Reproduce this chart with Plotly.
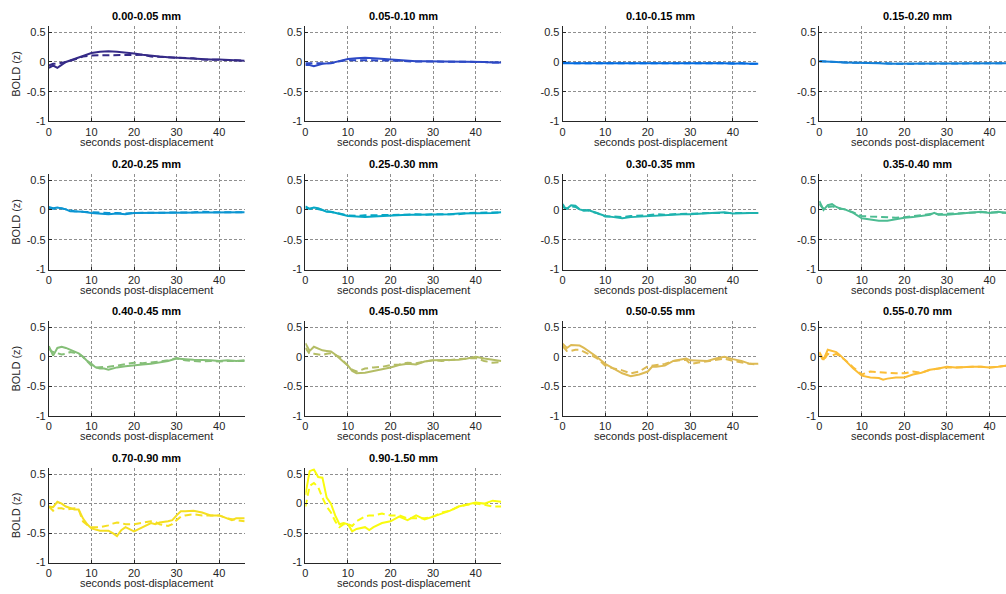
import plotly.graph_objects as go

# ---------------- data ----------------
TITLES = ["0.00-0.05 mm", "0.05-0.10 mm", "0.10-0.15 mm", "0.15-0.20 mm",
          "0.20-0.25 mm", "0.25-0.30 mm", "0.30-0.35 mm", "0.35-0.40 mm",
          "0.40-0.45 mm", "0.45-0.50 mm", "0.50-0.55 mm", "0.55-0.70 mm",
          "0.70-0.90 mm", "0.90-1.50 mm"]

COLORS = ["#352a87", "#2d49c5", "#036be0", "#137fd7", "#0b95d2", "#06a7c5",
          "#1eb3ae", "#4cbc92", "#85bf78", "#b4bd65", "#ddba54", "#fbbd36",
          "#f5df21", "#f9fb0e"]

X_TICKS = [0, 10, 20, 30, 40]
Y_TICKS = [0.5, 0, -0.5, -1]
Y_TICK_LABELS = ["0.5", "0", "-0.5", "-1"]

T_A = [0, 1, 2, 3, 4, 6, 8, 10, 12, 14, 16, 18, 20, 22, 24, 26, 28, 30, 32, 34, 36, 38, 40, 42, 44, 46]
T_B = [0, 1, 2, 3, 4, 5, 6, 8, 10, 12, 14, 16, 18, 20, 22, 24, 26, 28, 30, 32, 34, 36, 38, 40, 42, 44, 46]

T01 = T_A
S01 = [-0.10, -0.06, -0.10, -0.05, 0.00, 0.05, 0.10, 0.15, 0.17, 0.18, 0.17, 0.16, 0.14, 0.12, 0.10, 0.09, 0.08, 0.07, 0.07, 0.06, 0.04, 0.04, 0.04, 0.03, 0.03, 0.02]
D01 = [-0.06, -0.03, -0.03, -0.02, 0.00, 0.04, 0.09, 0.11, 0.11, 0.11, 0.11, 0.11, 0.11, 0.12, 0.09, 0.09, 0.08, 0.07, 0.07, 0.06, 0.04, 0.04, 0.04, 0.03, 0.03, 0.02]

T02 = T_A
S02 = [-0.05, -0.05, -0.07, -0.05, -0.03, -0.02, 0.02, 0.05, 0.06, 0.07, 0.06, 0.05, 0.03, 0.02, 0.01, 0.01, 0.01, 0.01, 0.01, 0.00, 0.00, 0.00, 0.00, 0.00, -0.01, -0.01]
D02 = [-0.02, -0.02, -0.02, -0.03, -0.03, -0.02, 0.01, 0.03, 0.03, 0.03, 0.03, 0.03, 0.02, 0.02, 0.01, 0.01, 0.01, 0.01, 0.01, 0.00, 0.00, 0.00, 0.00, 0.00, -0.01, -0.01]

T03 = T_A
S03 = [-0.02, -0.02, -0.02, -0.02, -0.02, -0.02, -0.02, -0.02, -0.01, -0.02, -0.02, -0.02, -0.02, -0.02, -0.02, -0.02, -0.02, -0.02, -0.02, -0.02, -0.02, -0.02, -0.03, -0.02, -0.03, -0.03]
D03 = [-0.01, -0.02, -0.02, -0.02, -0.02, -0.02, -0.02, -0.01, -0.01, -0.01, -0.02, -0.02, -0.02, -0.02, -0.02, -0.02, -0.02, -0.02, -0.02, -0.02, -0.02, -0.02, -0.02, -0.02, -0.03, -0.03]

T04 = T_A
S04 = [0.01, 0.01, 0.01, 0.00, 0.00, -0.01, -0.01, -0.02, -0.02, -0.02, -0.03, -0.03, -0.03, -0.03, -0.03, -0.03, -0.02, -0.02, -0.02, -0.02, -0.02, -0.02, -0.02, -0.02, -0.02, -0.02]
D04 = [0.01, 0.01, 0.00, 0.00, 0.00, -0.01, -0.01, -0.01, -0.02, -0.02, -0.02, -0.03, -0.03, -0.02, -0.03, -0.02, -0.02, -0.02, -0.02, -0.02, -0.02, -0.02, -0.02, -0.02, -0.02, -0.02]

T05 = T_B
S05 = [0.05, 0.03, 0.04, 0.03, 0.01, -0.02, -0.02, -0.03, -0.05, -0.06, -0.07, -0.06, -0.07, -0.05, -0.05, -0.05, -0.04, -0.04, -0.04, -0.04, -0.04, -0.04, -0.04, -0.04, -0.04, -0.04, -0.04]
D05 = [0.03, 0.02, 0.03, 0.03, 0.01, -0.01, -0.02, -0.03, -0.04, -0.05, -0.05, -0.05, -0.06, -0.05, -0.05, -0.04, -0.04, -0.04, -0.04, -0.04, -0.04, -0.03, -0.04, -0.04, -0.04, -0.04, -0.04]

T06 = T_B
S06 = [0.06, 0.02, 0.04, 0.03, 0.00, -0.03, -0.03, -0.07, -0.10, -0.11, -0.12, -0.11, -0.10, -0.10, -0.09, -0.08, -0.08, -0.08, -0.07, -0.07, -0.07, -0.06, -0.06, -0.05, -0.05, -0.05, -0.04]
D06 = [0.03, 0.02, 0.03, 0.02, 0.00, -0.02, -0.03, -0.06, -0.09, -0.10, -0.09, -0.09, -0.09, -0.09, -0.08, -0.08, -0.07, -0.08, -0.07, -0.07, -0.06, -0.07, -0.05, -0.05, -0.05, -0.05, -0.04]

T07 = [0, 0.5, 1, 2, 3, 4, 5, 6, 8, 10, 12, 14, 16, 18, 20, 22, 24, 26, 28, 30, 32, 34, 36, 38, 40, 42, 44, 46]
S07 = [0.10, 0.04, 0.02, 0.08, 0.07, 0.01, -0.01, 0.00, -0.05, -0.10, -0.12, -0.14, -0.12, -0.11, -0.10, -0.09, -0.08, -0.08, -0.07, -0.07, -0.06, -0.06, -0.05, -0.04, -0.06, -0.05, -0.05, -0.05]
D07 = [0.06, 0.03, 0.02, 0.06, 0.05, 0.01, -0.01, -0.01, -0.05, -0.11, -0.11, -0.12, -0.10, -0.10, -0.09, -0.07, -0.08, -0.07, -0.07, -0.06, -0.06, -0.05, -0.05, -0.05, -0.05, -0.05, -0.04, -0.05]

T08 = [0, 1, 2, 3, 4, 5, 6, 8, 10, 12, 14, 16, 18, 20, 22, 24, 26, 27, 28, 30, 32, 34, 36, 38, 40, 42, 44, 46]
S08 = [0.15, 0.00, 0.08, 0.10, 0.05, 0.02, 0.01, -0.05, -0.14, -0.16, -0.18, -0.18, -0.15, -0.13, -0.12, -0.10, -0.08, -0.05, -0.08, -0.08, -0.07, -0.05, -0.04, -0.03, -0.05, -0.03, -0.05, -0.06]
D08 = [0.10, 0.02, 0.05, 0.06, 0.04, 0.03, 0.01, -0.04, -0.10, -0.11, -0.12, -0.13, -0.13, -0.12, -0.10, -0.09, -0.07, -0.06, -0.07, -0.07, -0.06, -0.05, -0.04, -0.04, -0.04, -0.04, -0.05, -0.05]

T09 = [0, 0.5, 1, 2, 3, 4, 5, 6, 7, 8, 9, 10, 11, 12, 13, 14, 16, 18, 20, 22, 24, 26, 28, 30, 31, 32, 34, 36, 38, 40, 42, 44, 46]
S09 = [0.18, 0.10, 0.02, 0.15, 0.17, 0.15, 0.12, 0.10, 0.06, 0.00, -0.07, -0.12, -0.18, -0.20, -0.20, -0.22, -0.18, -0.16, -0.14, -0.13, -0.12, -0.10, -0.07, -0.03, -0.03, -0.04, -0.05, -0.05, -0.06, -0.07, -0.06, -0.07, -0.06]
D09 = [0.15, 0.10, 0.08, 0.06, 0.04, 0.05, 0.08, 0.07, 0.05, 0.00, -0.08, -0.15, -0.18, -0.18, -0.17, -0.17, -0.15, -0.13, -0.10, -0.11, -0.10, -0.08, -0.06, -0.02, -0.04, -0.06, -0.07, -0.08, -0.07, -0.08, -0.07, -0.07, -0.07]

T10 = [0, 1, 2, 3, 4, 5, 6, 7, 8, 10, 11, 12, 14, 16, 18, 20, 22, 24, 26, 28, 30, 32, 34, 36, 38, 40, 42, 44, 46]
S10 = [0.23, 0.10, 0.17, 0.14, 0.11, 0.10, 0.09, 0.04, -0.02, -0.15, -0.24, -0.28, -0.27, -0.24, -0.22, -0.18, -0.14, -0.12, -0.13, -0.08, -0.06, -0.06, -0.06, -0.05, -0.03, 0.00, -0.03, -0.05, -0.07]
D10 = [0.15, 0.05, 0.05, 0.04, 0.03, 0.05, 0.06, 0.03, 0.00, -0.15, -0.22, -0.25, -0.20, -0.18, -0.17, -0.14, -0.13, -0.10, -0.11, -0.08, -0.06, -0.07, -0.05, -0.04, -0.03, -0.02, -0.07, -0.10, -0.09]

T11 = [0, 1, 2, 3, 4, 5, 6, 8, 10, 12, 14, 16, 18, 20, 21, 22, 24, 26, 28, 29, 30, 32, 34, 36, 38, 40, 42, 44, 46]
S11 = [0.22, 0.15, 0.20, 0.20, 0.19, 0.15, 0.10, 0.00, -0.12, -0.20, -0.28, -0.33, -0.30, -0.25, -0.17, -0.17, -0.15, -0.07, -0.05, -0.03, -0.06, -0.07, -0.07, -0.03, 0.00, -0.04, -0.07, -0.12, -0.12]
D11 = [0.18, 0.10, 0.10, 0.12, 0.12, 0.09, 0.05, -0.02, -0.15, -0.20, -0.23, -0.28, -0.25, -0.16, -0.15, -0.15, -0.12, -0.07, -0.05, -0.05, -0.12, -0.10, -0.08, -0.05, -0.03, -0.07, -0.10, -0.12, -0.13]

T12 = [0, 1, 2, 3, 4, 5, 6, 8, 10, 12, 14, 15, 16, 18, 20, 22, 24, 26, 28, 30, 32, 34, 36, 38, 40, 42, 44, 46]
S12 = [0.08, -0.05, 0.12, 0.10, 0.08, 0.02, -0.05, -0.20, -0.32, -0.35, -0.36, -0.39, -0.37, -0.35, -0.35, -0.30, -0.27, -0.22, -0.20, -0.17, -0.18, -0.17, -0.17, -0.17, -0.18, -0.17, -0.15, -0.15]
D12 = [0.05, -0.07, 0.05, 0.02, 0.05, 0.00, -0.05, -0.18, -0.30, -0.25, -0.26, -0.27, -0.28, -0.28, -0.28, -0.25, -0.27, -0.22, -0.20, -0.18, -0.18, -0.17, -0.17, -0.17, -0.18, -0.17, -0.15, -0.15]

T13 = [0, 1, 2, 3, 4, 5, 6, 7, 8, 9, 10, 12, 14, 15, 16, 17, 18, 20, 22, 24, 25, 26, 28, 29, 30, 31, 32, 34, 36, 38, 40, 42, 43, 44, 46]
S13 = [-0.05, -0.06, 0.03, 0.00, -0.05, -0.08, -0.10, -0.10, -0.25, -0.35, -0.42, -0.46, -0.46, -0.50, -0.55, -0.45, -0.40, -0.47, -0.40, -0.33, -0.35, -0.32, -0.30, -0.28, -0.20, -0.13, -0.13, -0.12, -0.15, -0.20, -0.20, -0.25, -0.28, -0.25, -0.25]
D13 = [-0.05, -0.12, -0.08, -0.08, -0.10, -0.09, -0.08, -0.10, -0.30, -0.36, -0.40, -0.40, -0.37, -0.34, -0.32, -0.33, -0.35, -0.35, -0.33, -0.30, -0.31, -0.35, -0.38, -0.35, -0.28, -0.22, -0.20, -0.18, -0.20, -0.20, -0.20, -0.25, -0.27, -0.28, -0.30]

T14 = [0, 1, 2, 3, 4, 5, 6, 7, 8, 9, 10, 11, 12, 14, 15, 16, 18, 20, 22, 24, 26, 28, 30, 32, 34, 36, 38, 40, 42, 44, 46]
S14 = [0.15, 0.55, 0.58, 0.45, 0.44, 0.10, 0.00, -0.20, -0.35, -0.33, -0.35, -0.47, -0.43, -0.40, -0.45, -0.40, -0.33, -0.30, -0.22, -0.28, -0.20, -0.27, -0.22, -0.17, -0.12, -0.05, -0.02, 0.02, 0.00, 0.05, 0.03]
D14 = [-0.05, 0.30, 0.35, 0.28, 0.10, -0.05, -0.15, -0.30, -0.40, -0.35, -0.35, -0.38, -0.30, -0.22, -0.20, -0.20, -0.17, -0.20, -0.20, -0.25, -0.25, -0.25, -0.22, -0.15, -0.12, -0.05, -0.02, 0.00, -0.02, -0.05, -0.05]

TS = [T01, T02, T03, T04, T05, T06, T07, T08, T09, T10, T11, T12, T13, T14]
SOLID = [S01, S02, S03, S04, S05, S06, S07, S08, S09, S10, S11, S12, S13, S14]
DASHED = [D01, D02, D03, D04, D05, D06, D07, D08, D09, D10, D11, D12, D13, D14]

for i in range(14):
    assert len(TS[i]) == len(SOLID[i]) == len(DASHED[i]), (i, len(TS[i]), len(SOLID[i]), len(DASHED[i]))

# ---------------- layout geometry (pixels) ----------------
W, H = 1006, 594
COL_X0 = [46, 303.3, 561.3, 818.7]
PX_PER_S = 4.27
X_MAX = 46
ROW_TOP = [26.5, 176, 324.7, 473]
ROW_BOT = [122.7, 272.3, 420, 568.3]

FONT = "Liberation Sans, Arial, Helvetica, sans-serif"
INK = "#262626"
GRID = "#8f8f8f"

fig = go.Figure()
annotations = []
layout = {}

for i in range(14):
    r, c = divmod(i, 4)
    ax = "" if i == 0 else str(i + 1)
    x0 = COL_X0[c]
    x1_full = x0 + X_MAX * PX_PER_S
    x1 = min(x1_full, W)
    xmax = (x1 - x0) / PX_PER_S
    cx = (x0 + x1_full) / 2

    layout["xaxis" + ax] = dict(
        domain=[x0 / W, x1 / W], range=[0, xmax], anchor="y" + ax,
        tickvals=X_TICKS, ticks="inside", ticklen=3, tickcolor=INK,
        showline=True, linecolor=INK, linewidth=1, mirror=False,
        showgrid=True, gridcolor=GRID, griddash="3px,2px", gridwidth=1,
        zeroline=False, tickfont=dict(family=FONT, size=11, color=INK),
        fixedrange=True,
    )
    layout["yaxis" + ax] = dict(
        domain=[1 - ROW_BOT[r] / H, 1 - ROW_TOP[r] / H], range=[-1, 0.6],
        anchor="x" + ax, tickvals=Y_TICKS, ticktext=Y_TICK_LABELS,
        ticks="inside", ticklen=3, tickcolor=INK,
        showline=True, linecolor=INK, linewidth=1, mirror=False,
        showgrid=True, gridcolor=GRID, griddash="3px,2px", gridwidth=1,
        zeroline=False, tickfont=dict(family=FONT, size=11, color=INK),
        fixedrange=True,
    )

    fig.add_trace(go.Scatter(
        x=TS[i], y=DASHED[i], mode="lines", xaxis="x" + ax, yaxis="y" + ax,
        line=dict(color=COLORS[i], width=2, dash="7px,4px"),
        showlegend=False, hoverinfo="skip", cliponaxis=True,
    ))
    fig.add_trace(go.Scatter(
        x=TS[i], y=SOLID[i], mode="lines", xaxis="x" + ax, yaxis="y" + ax,
        line=dict(color=COLORS[i], width=2),
        showlegend=False, hoverinfo="skip", cliponaxis=True,
    ))

    # panel title
    annotations.append(dict(
        text="<b>" + TITLES[i] + "</b>", x=cx / W, y=1 - (ROW_TOP[r] - 10.5) / H,
        xref="paper", yref="paper", xanchor="center", yanchor="middle",
        showarrow=False, font=dict(family=FONT, size=11, color="#000000"),
    ))
    # x label
    annotations.append(dict(
        text="seconds post-displacement", x=cx / W, y=1 - (ROW_BOT[r] + 20.5) / H,
        xref="paper", yref="paper", xanchor="center", yanchor="middle",
        showarrow=False, font=dict(family=FONT, size=11, color=INK),
    ))
    # y label on first column
    if c == 0:
        annotations.append(dict(
            text="BOLD (z)", x=13 / W, y=1 - ((ROW_TOP[r] + ROW_BOT[r]) / 2) / H,
            xref="paper", yref="paper", xanchor="center", yanchor="middle",
            textangle=-90, showarrow=False, font=dict(family=FONT, size=11, color=INK),
        ))

fig.update_layout(
    width=W, height=H, margin=dict(l=0, r=0, t=0, b=0),
    paper_bgcolor="white", plot_bgcolor="white",
    annotations=annotations, **layout,
)

fig.write_html(
    "out.html",
    config={"displayModeBar": False},
    post_script="document.body.style.margin='0';document.body.style.padding='0';"
                "document.body.style.overflow='hidden';",
)
